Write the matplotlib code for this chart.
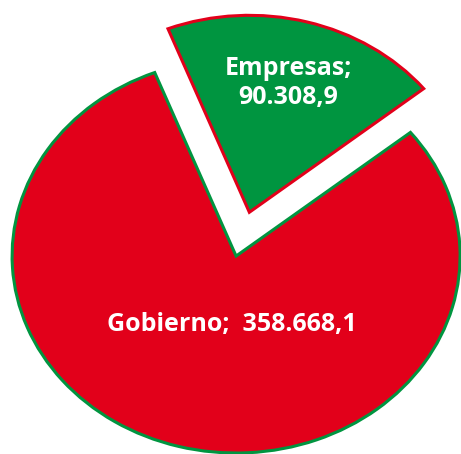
import matplotlib.pyplot as plt
import matplotlib

matplotlib.rcParams['font.family'] = ['Open Sans', 'DejaVu Sans']

sectores = ['Gobierno', 'Empresas']
valores = [358668.1, 90308.9]
etiquetas = ['Gobierno;  358.668,1', 'Empresas;\n90.308,9']
colores = ['#E2001A', '#009540']
bordes = ['#009540', '#E2001A']
separacion = [0, 0.23]

fig = plt.figure(figsize=(4.61, 4.54), dpi=100)
ax = fig.add_axes([0, 0, 1, 1])

wedges, _ = ax.pie(valores, colors=colores, startangle=111.3,
                   explode=separacion, radius=1.0)
for w, c in zip(wedges, bordes):
    w.set_edgecolor(c)
    w.set_linewidth(2.2)

# el grafico original esta algo achatado en vertical
ax.set_aspect('auto')
ax.set_xlim(-1.054, 1.004)
ax.set_ylim(-1.005, 1.30)
ax.axis('off')

# posiciones de las etiquetas
pos = [(-0.017, -0.35), (0.232, 0.878)]
for (x, y), t in zip(pos, etiquetas):
    ax.text(x, y, t, ha='center', va='center', color='white',
            fontsize=18, fontweight='bold', linespacing=1.2)

fig.savefig('out.png', dpi=100)
